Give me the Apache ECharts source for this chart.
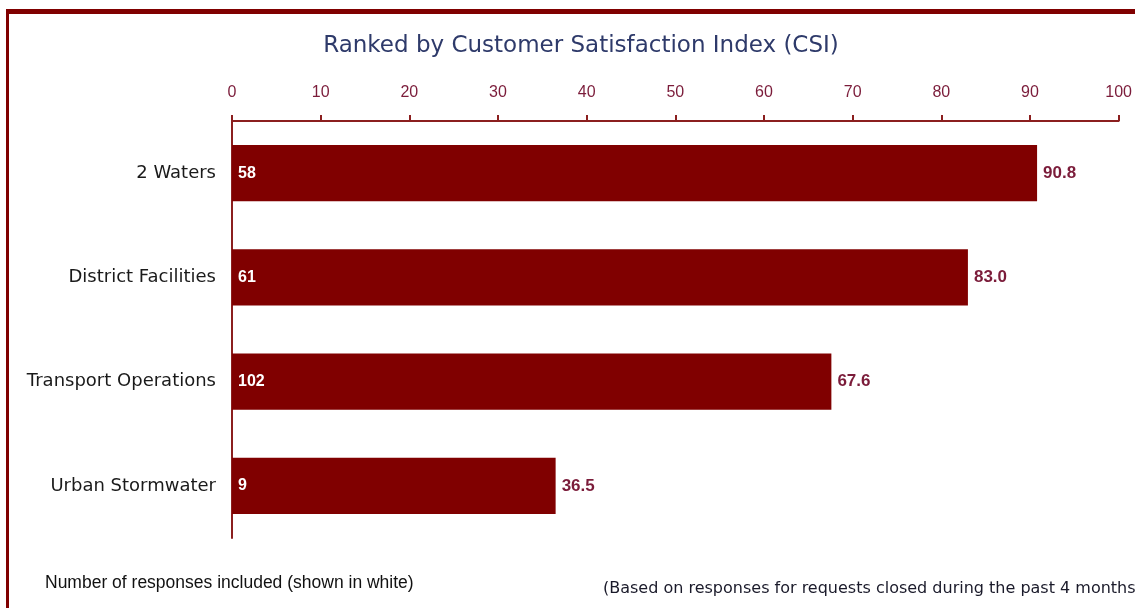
<!DOCTYPE html>
<html>
<head>
<meta charset="utf-8">
<script src="https://cdn.jsdelivr.net/npm/echarts@6/dist/echarts.min.js"></script>
<style>
  html, body { margin: 0; padding: 0; background: #fff; overflow: hidden; }
  #frame {
    position: absolute; left: 6px; top: 9px; width: 1200px; height: 700px;
    border-left: 3px solid #800000; border-top: 5px solid #800000;
  }
  #chart { position: absolute; left: 0; top: 0; width: 1135px; height: 608px; }
</style>
</head>
<body>
<div id="frame"></div>
<div id="chart"></div>
<script>
const categories = ['2 Waters', 'District Facilities', 'Transport Operations', 'Urban Stormwater'];
const csiValues = [90.8, 83.0, 67.6, 36.5];
const responseCounts = [58, 61, 102, 9];
const xTicks = [0, 10, 20, 30, 40, 50, 60, 70, 80, 90, 100];

const myChart = echarts.init(document.getElementById('chart'));

const option = {
  animation: false,
  title: {
    text: 'Ranked by Customer Satisfaction Index (CSI)',
    left: 576,
    textAlign: 'center',
    top: 30,
    textStyle: {
      color: '#2e3a6a',
      fontFamily: 'DejaVu Sans',
      fontWeight: 'normal',
      fontSize: 23
    }
  },
  grid: {
    left: 232,
    right: 16,
    top: 121,
    bottom: 70
  },
  xAxis: {
    type: 'value',
    position: 'top',
    min: xTicks[0],
    max: xTicks[xTicks.length - 1],
    interval: 10,
    splitLine: { show: false },
    axisLine: { show: true, lineStyle: { color: '#8b1f1f', width: 2 } },
    axisTick: { show: true, length: 6, lineStyle: { color: '#8b1f1f', width: 2 } },
    axisLabel: {
      margin: 20,
      color: '#7b1c3a',
      fontFamily: 'Liberation Sans',
      fontSize: 16
    }
  },
  yAxis: {
    type: 'category',
    data: categories,
    inverse: true,
    axisLine: { show: true, lineStyle: { color: '#8b1f1f', width: 2 } },
    axisTick: { show: false },
    axisLabel: {
      margin: 16,
      color: '#1a1a1a',
      fontFamily: 'DejaVu Sans',
      fontSize: 18
    }
  },
  series: [
    {
      name: 'CSI',
      type: 'bar',
      data: csiValues,
      barCategoryGap: '46%',
      itemStyle: { color: '#800000' },
      label: {
        show: true,
        position: 'right',
        distance: 6,
        color: '#7b1c3a',
        fontFamily: 'Liberation Sans',
        fontWeight: 'bold',
        fontSize: 17,
        formatter: p => p.value.toFixed(1)
      }
    },
    {
      name: 'Responses',
      type: 'bar',
      data: csiValues,
      barGap: '-100%',
      barCategoryGap: '46%',
      itemStyle: { color: 'rgba(0,0,0,0)' },
      label: {
        show: true,
        position: 'insideLeft',
        distance: 6,
        color: '#fff',
        fontFamily: 'Liberation Sans',
        fontWeight: 'bold',
        fontSize: 16,
        formatter: p => String(responseCounts[p.dataIndex])
      }
    }
  ],
  graphic: [
    {
      type: 'text',
      left: 45,
      top: 574,
      style: {
        text: 'Number of responses included (shown in white)',
        fill: '#111',
        font: '17.5px "Liberation Sans"'
      }
    },
    {
      type: 'text',
      left: 603,
      top: 581,
      style: {
        text: '(Based on responses for requests closed during the past 4 months)',
        fill: '#1a1a2a',
        font: '16px "DejaVu Sans"'
      }
    }
  ]
};

myChart.setOption(option);
</script>
</body>
</html>
